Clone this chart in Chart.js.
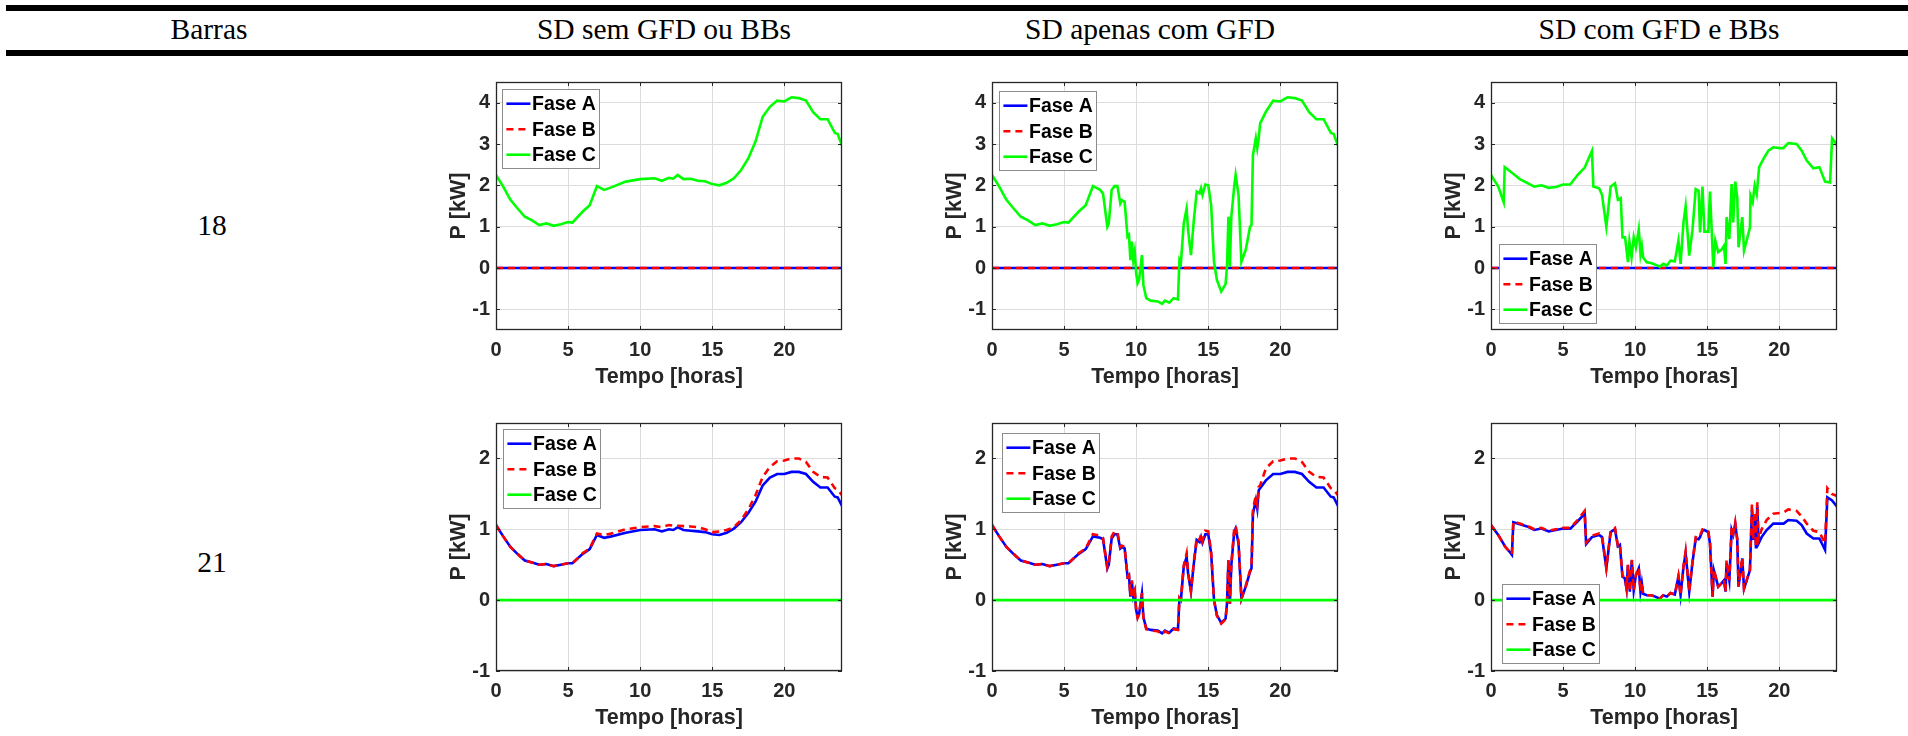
<!DOCTYPE html>
<html>
<head>
<meta charset="utf-8">
<script src="https://cdn.jsdelivr.net/npm/chart.js@4.4.1/dist/chart.umd.min.js"></script>
<style>
body { margin: 0; background: #fff; width: 1908px; height: 736px; overflow: hidden; position: relative; font-family: "Liberation Serif", "Times New Roman", serif; }
.rule { position: absolute; left: 6px; right: 0; height: 6px; background: #000; }
.hd { position: absolute; font-size: 29.5px; line-height: 1; white-space: nowrap; transform: translateX(-50%); color: #000; }
canvas { position: absolute; }
</style>
</head>
<body>
<div class="rule" style="top:5px"></div>
<div class="rule" style="top:50px"></div>
<div class="hd" style="left:209px;top:15px">Barras</div>
<div class="hd" style="left:664px;top:15px">SD sem GFD ou BBs</div>
<div class="hd" style="left:1150px;top:15px">SD apenas com GFD</div>
<div class="hd" style="left:1659px;top:15px">SD com GFD e BBs</div>
<div class="hd" style="left:212px;top:211px">18</div>
<div class="hd" style="left:212px;top:548px">21</div>
<script>
// Tick labels
let xTicks = [0, 5, 10, 15, 20];
let yTicks18 = [-1, 0, 1, 2, 3, 4];
let yTicks21 = [-1, 0, 1, 2];

let phaseLabels = ['Fase A', 'Fase B', 'Fase C'];

// Phases that carry no load
let zeroHours = [0, 24];
let zeroLine = [0, 0];

// SD sem GFD ou BBs
let hoursSemGFD = [0,0.5,1,1.5,2,2.5,3,3.5,4,4.5,5,5.3,6,6.5,7,7.5,8,9,10,11,11.5,12,12.3,12.6,13,13.5,14,14.5,15,15.5,16,16.5,17,17.5,18,18.5,19,19.5,20,20.5,21,21.5,22,22.5,23,23.5,23.7,24];
let bus18C_semGFD = [2.25,1.97,1.65,1.44,1.24,1.15,1.04,1.08,1.02,1.06,1.11,1.1,1.36,1.52,1.98,1.89,1.95,2.09,2.15,2.17,2.11,2.18,2.16,2.25,2.15,2.16,2.11,2.1,2.03,2.0,2.06,2.17,2.37,2.65,3.06,3.66,3.9,4.05,4.03,4.13,4.11,4.05,3.77,3.6,3.6,3.27,3.24,2.96];
let bus21A_semGFD = [1.06,0.9,0.75,0.65,0.56,0.53,0.5,0.51,0.48,0.5,0.52,0.52,0.65,0.72,0.92,0.88,0.9,0.95,0.99,1.0,0.97,1.0,0.99,1.03,0.99,0.98,0.97,0.96,0.93,0.92,0.95,1.01,1.1,1.23,1.39,1.62,1.73,1.78,1.78,1.81,1.81,1.78,1.67,1.59,1.59,1.46,1.45,1.33];
let bus21B_semGFD = [1.06,0.9,0.75,0.65,0.56,0.53,0.5,0.51,0.48,0.5,0.52,0.52,0.66,0.73,0.94,0.92,0.94,1.0,1.03,1.045,1.03,1.06,1.05,1.05,1.045,1.04,1.03,1.0,0.96,0.97,0.99,1.03,1.13,1.28,1.48,1.74,1.88,1.96,1.97,2.0,2.0,1.95,1.81,1.74,1.73,1.58,1.56,1.48];

// SD apenas com GFD
let hoursGFD = [0,0.5,1,1.5,2,2.5,3,3.5,4,4.5,5,5.3,6,6.5,7,7.5,7.7,8.0,8.1,8.3,8.5,8.7,8.9,9.0,9.2,9.4,9.5,9.6,9.7,9.8,9.9,10.0,10.1,10.2,10.4,10.5,10.7,11,11.5,11.8,12,12.3,12.6,12.9,13.0,13.1,13.3,13.5,13.6,13.8,14.0,14.2,14.4,14.5,14.6,14.8,15.0,15.2,15.4,15.6,15.9,16.2,16.3,16.4,16.5,16.6,16.8,16.9,17.1,17.3,17.6,17.9,18.0,18.1,18.3,18.4,18.5,18.6,19,19.5,20,20.5,21,21.5,22,22.5,23,23.5,23.7,24];
let bus18C_GFD = [2.25,1.97,1.65,1.44,1.24,1.15,1.04,1.08,1.02,1.06,1.11,1.1,1.36,1.52,1.98,1.89,1.8,1.0,1.08,1.89,1.98,1.98,1.56,1.64,1.6,0.76,0.8,0.19,0.64,0.19,0.4,-0.13,-0.37,-0.29,0.31,-0.41,-0.73,-0.79,-0.81,-0.87,-0.79,-0.84,-0.73,-0.76,0.19,0.11,1.08,1.44,0.92,0.31,1.16,1.85,1.81,1.93,1.77,2.02,2.0,1.52,0.15,-0.29,-0.57,-0.39,0.03,1.24,0.03,1.24,1.97,2.25,1.77,0.15,0.44,1.0,1.04,2.73,3.14,2.9,3.14,3.5,3.78,4.05,4.03,4.13,4.11,4.05,3.77,3.6,3.6,3.27,3.24,2.96];
let bus21A_GFD = [1.06,0.9,0.75,0.65,0.56,0.53,0.5,0.51,0.48,0.5,0.52,0.52,0.65,0.72,0.9,0.88,0.86,0.45,0.5,0.87,0.93,0.93,0.73,0.75,0.73,0.33,0.35,0.05,0.26,0.05,0.12,-0.14,-0.24,-0.2,0.09,-0.24,-0.4,-0.42,-0.43,-0.47,-0.43,-0.46,-0.4,-0.41,0.02,0.0,0.47,0.61,0.38,0.12,0.52,0.85,0.82,0.89,0.81,0.93,0.93,0.66,0.0,-0.21,-0.32,-0.26,-0.05,0.56,-0.05,0.49,0.96,1.01,0.8,0.02,0.19,0.4,0.45,1.22,1.41,1.29,1.55,1.58,1.69,1.78,1.78,1.81,1.81,1.78,1.67,1.59,1.59,1.46,1.45,1.33];
let bus21B_GFD = [1.06,0.9,0.75,0.65,0.56,0.53,0.5,0.51,0.48,0.5,0.52,0.52,0.66,0.73,0.93,0.91,0.88,0.46,0.52,0.9,0.97,0.96,0.75,0.77,0.75,0.34,0.36,0.06,0.28,0.06,0.13,-0.14,-0.25,-0.2,0.1,-0.25,-0.41,-0.43,-0.44,-0.48,-0.44,-0.47,-0.41,-0.42,0.03,0.0,0.49,0.66,0.4,0.13,0.54,0.88,0.85,0.93,0.84,0.98,0.97,0.69,0.0,-0.22,-0.33,-0.27,-0.05,0.58,-0.05,0.51,1.0,1.05,0.83,0.02,0.2,0.42,0.47,1.28,1.48,1.35,1.6,1.62,1.86,1.96,1.97,2.0,2.0,1.95,1.81,1.74,1.73,1.58,1.56,1.48];

// SD com GFD e BBs
let hours18BB = [0,0.5,0.88,0.95,1.5,2,2.5,3,3.5,4,4.5,5,5.5,6,6.5,7,7.1,7.5,7.7,8,8.3,8.6,8.8,9.0,9.12,9.3,9.5,9.6,9.75,9.9,10.05,10.25,10.37,10.46,10.55,10.8,11.1,11.4,11.7,11.95,12.2,12.45,12.75,13.0,13.15,13.35,13.5,13.75,13.98,14.2,14.4,14.5,14.67,14.8,15.07,15.19,15.42,15.56,15.76,16.0,16.16,16.27,16.34,16.53,16.69,16.8,16.94,17.08,17.17,17.43,17.55,17.96,18.0,18.15,18.29,18.43,18.6,18.9,19.24,19.58,20.05,20.28,20.62,21.2,21.55,21.9,22.36,22.78,23.17,23.52,23.66,23.87,24];
let bus18C_BB = [2.25,1.97,1.59,2.44,2.29,2.15,2.06,1.97,2.0,1.94,1.96,2.02,2.02,2.25,2.43,2.83,1.97,1.93,1.77,1.0,1.97,2.05,1.65,1.69,0.74,0.74,0.14,0.64,0.26,0.74,0.5,0.94,0.34,0.54,0.26,0.14,0.12,0.08,0.03,0.1,0.06,0.18,0.16,0.66,0.1,1.1,1.49,0.3,0.94,1.91,1.87,0.86,1.97,0.88,0.88,1.85,0.02,0.66,0.38,0.45,0.54,0.1,1.23,0.7,2.03,1.1,2.09,1.71,0.5,1.23,0.42,0.98,1.75,1.59,1.99,1.79,2.44,2.64,2.84,2.92,2.9,2.9,3.02,3.0,2.84,2.6,2.41,2.44,2.09,2.07,3.14,3.04,2.96];
let hours21BB = [0,0.5,1.0,1.3,1.45,1.55,2,2.5,3,3.5,4,4.5,5,5.5,6,6.5,6.6,7,7.5,7.7,8,8.3,8.6,8.8,8.94,9.12,9.28,9.4,9.5,9.63,9.77,9.9,10.05,10.25,10.37,10.46,10.55,10.8,11.1,11.4,11.7,11.95,12.2,12.45,12.75,13.0,13.15,13.35,13.5,13.75,13.98,14.2,14.4,14.5,14.67,14.8,15.07,15.19,15.37,15.46,15.76,16.0,16.16,16.27,16.34,16.53,16.69,16.8,16.94,17.08,17.17,17.43,17.55,17.96,18.1,18.2,18.29,18.38,18.47,18.56,18.77,19.12,19.58,20.05,20.3,20.62,21.2,21.55,21.9,22.36,22.78,23.17,23.33,23.64,24];
let bus21A_BB = [1.06,0.92,0.75,0.68,0.64,1.1,1.07,1.04,0.99,1.01,0.97,0.99,1.01,1.01,1.11,1.22,0.79,0.89,0.92,0.89,0.45,0.96,1.0,0.76,0.78,0.33,0.31,0.16,0.49,0.12,0.56,0.14,0.35,0.45,0.12,0.24,0.09,0.07,0.07,0.05,0.02,0.07,0.05,0.1,0.08,0.33,0.07,0.47,0.66,0.12,0.54,0.87,0.86,0.89,0.98,0.99,0.96,0.8,0.05,0.42,0.19,0.24,0.28,0.12,0.52,0.28,0.99,0.92,1.08,0.85,0.19,0.59,0.16,0.42,1.27,0.85,1.18,0.73,1.34,0.8,0.89,0.99,1.08,1.08,1.08,1.13,1.12,1.06,0.94,0.87,0.87,0.71,1.45,1.41,1.32];
let bus21B_BB = [1.06,0.92,0.75,0.68,0.65,1.11,1.08,1.05,1.0,1.02,0.98,1.0,1.02,1.02,1.13,1.26,0.81,0.91,0.94,0.91,0.46,0.98,1.02,0.77,0.79,0.34,0.32,0.17,0.5,0.12,0.57,0.14,0.36,0.46,0.12,0.25,0.09,0.07,0.07,0.05,0.02,0.07,0.05,0.1,0.08,0.34,0.07,0.48,0.69,0.12,0.55,0.89,0.88,0.91,1.0,1.0,0.97,0.81,0.05,0.43,0.19,0.24,0.29,0.12,0.56,0.28,1.02,0.94,1.1,0.87,0.19,0.6,0.16,0.43,1.36,0.87,1.25,0.75,1.38,0.86,1.0,1.13,1.22,1.23,1.24,1.28,1.26,1.18,1.08,0.98,0.96,0.8,1.58,1.5,1.47];

// Layout
const YW = 62, XH = 62, PADT = 4, PADR = 6;
const CW = YW + 346 + PADR, CH = PADT + 248 + XH;
const colLeft = [496, 992, 1491];
const rowTop = [82, 423];
const phaseColors = ['#0000ff', '#ff0000', '#00ff00'];
const axisColor = '#262626';
const tickFont = { family: '"Liberation Sans", Arial, sans-serif', size: 20, weight: 'bold' };
const titleFont = { family: '"Liberation Sans", Arial, sans-serif', size: 21.5, weight: 'bold' };

const rows = [
    { min: -1.5, max: 4.5, ticks: yTicks18 },
    { min: -1, max: 2.5, ticks: yTicks21 }
];

const panels = [
    { row: 0, col: 0, series: [[zeroHours, zeroLine], [zeroHours, zeroLine], [hoursSemGFD, bus18C_semGFD]], legend: { corner: 'nw', dx: 6, dy: 7 } },
    { row: 0, col: 1, series: [[zeroHours, zeroLine], [zeroHours, zeroLine], [hoursGFD, bus18C_GFD]], legend: { corner: 'nw', dx: 7, dy: 9 } },
    { row: 0, col: 2, series: [[zeroHours, zeroLine], [zeroHours, zeroLine], [hours18BB, bus18C_BB]], legend: { corner: 'sw', dx: 8, dy: 7 } },
    { row: 1, col: 0, series: [[hoursSemGFD, bus21A_semGFD], [hoursSemGFD, bus21B_semGFD], [zeroHours, zeroLine]], legend: { corner: 'nw', dx: 7, dy: 6 } },
    { row: 1, col: 1, series: [[hoursGFD, bus21A_GFD], [hoursGFD, bus21B_GFD], [zeroHours, zeroLine]], legend: { corner: 'nw', dx: 10, dy: 10 } },
    { row: 1, col: 2, series: [[hours21BB, bus21A_BB], [hours21BB, bus21B_BB], [zeroHours, zeroLine]], legend: { corner: 'sw', dx: 11, dy: 8 } }
];

// MATLAB style box, inner ticks and legend
const boxPlugin = {
    id: 'matlabBox',
    afterDatasetsDraw(chart, args, opts) {
        const { ctx, chartArea: a } = chart;
        const sx = chart.scales.x, sy = chart.scales.y;
        ctx.save();
        ctx.strokeStyle = axisColor;
        ctx.lineWidth = 1;
        ctx.beginPath();
        sx.ticks.forEach(t => {
            const px = Math.round(sx.getPixelForValue(t.value)) + 0.5;
            ctx.moveTo(px, a.bottom); ctx.lineTo(px, a.bottom - 4);
            ctx.moveTo(px, a.top); ctx.lineTo(px, a.top + 4);
        });
        sy.ticks.forEach(t => {
            const py = Math.round(sy.getPixelForValue(t.value)) + 0.5;
            ctx.moveTo(a.left, py); ctx.lineTo(a.left + 4, py);
            ctx.moveTo(a.right, py); ctx.lineTo(a.right - 4, py);
        });
        ctx.stroke();
        ctx.lineWidth = 1.3;
        ctx.strokeRect(a.left + 0.5, a.top + 0.5, a.right - a.left - 1, a.bottom - a.top - 1);

        const w = 97, h = 79;
        const bx = a.left + opts.dx;
        const by = opts.corner === 'nw' ? a.top + opts.dy : a.bottom - opts.dy - h;
        ctx.fillStyle = '#fff';
        ctx.fillRect(bx, by, w, h);
        ctx.lineWidth = 1;
        ctx.strokeStyle = '#8c8c8c';
        ctx.strokeRect(bx + 0.5, by + 0.5, w, h);
        ctx.font = 'bold 19.5px "Liberation Sans", Arial, sans-serif';
        ctx.textBaseline = 'middle';
        ctx.textAlign = 'left';
        chart.data.datasets.forEach((d, i) => {
            const y = by + 14.7 + i * 25.5;
            ctx.strokeStyle = d.borderColor;
            ctx.lineWidth = d.borderWidth;
            ctx.setLineDash(d.borderDash);
            ctx.beginPath();
            ctx.moveTo(bx + 4.4, y);
            ctx.lineTo(bx + 28.4, y);
            ctx.stroke();
            ctx.setLineDash([]);
            ctx.fillStyle = '#000';
            ctx.fillText(d.label, bx + 30, y + 1);
        });
        ctx.restore();
    }
};

panels.forEach(p => {
    const cv = document.createElement('canvas');
    cv.width = CW;
    cv.height = CH;
    cv.style.left = (colLeft[p.col] - YW) + 'px';
    cv.style.top = (rowTop[p.row] - PADT) + 'px';
    document.body.appendChild(cv);
    const r = rows[p.row];
    new Chart(cv.getContext('2d'), {
        type: 'line',
        data: {
            datasets: p.series.map((s, i) => ({
                label: phaseLabels[i],
                data: s[0].map((x, k) => ({ x: x, y: s[1][k] })),
                borderColor: phaseColors[i],
                borderWidth: 2.6,
                borderDash: i === 1 ? [7, 5] : [],
                pointRadius: 0,
                tension: 0,
                fill: false,
                order: 3 - i
            }))
        },
        options: {
            responsive: false,
            animation: false,
            devicePixelRatio: 1,
            layout: { padding: { left: 0, top: PADT, right: PADR, bottom: 0 } },
            plugins: { legend: { display: false }, tooltip: { enabled: false }, matlabBox: p.legend },
            scales: {
                x: {
                    type: 'linear', min: 0, max: 24,
                    afterBuildTicks: s => { s.ticks = xTicks.map(v => ({ value: v })); },
                    afterFit: s => { s.height = XH; s.paddingLeft = 0; s.paddingRight = 0; },
                    grid: { color: '#dcdcdc', drawTicks: false },
                    border: { display: false },
                    ticks: { font: tickFont, color: axisColor, padding: 8, maxRotation: 0 },
                    title: { display: true, text: 'Tempo [horas]', font: titleFont, color: axisColor, padding: { top: 0, bottom: 2 } }
                },
                y: {
                    type: 'linear', min: r.min, max: r.max,
                    afterBuildTicks: s => { s.ticks = r.ticks.map(v => ({ value: v })); },
                    afterFit: s => { s.width = YW; s.paddingTop = 0; s.paddingBottom = 0; },
                    grid: { color: '#dcdcdc', drawTicks: false },
                    border: { display: false },
                    ticks: { font: tickFont, color: axisColor, padding: 6 },
                    title: { display: true, text: 'P [kW]', font: titleFont, color: axisColor, padding: { top: 12, bottom: 0 } }
                }
            }
        },
        plugins: [boxPlugin]
    });
});
</script>
</body>
</html>
